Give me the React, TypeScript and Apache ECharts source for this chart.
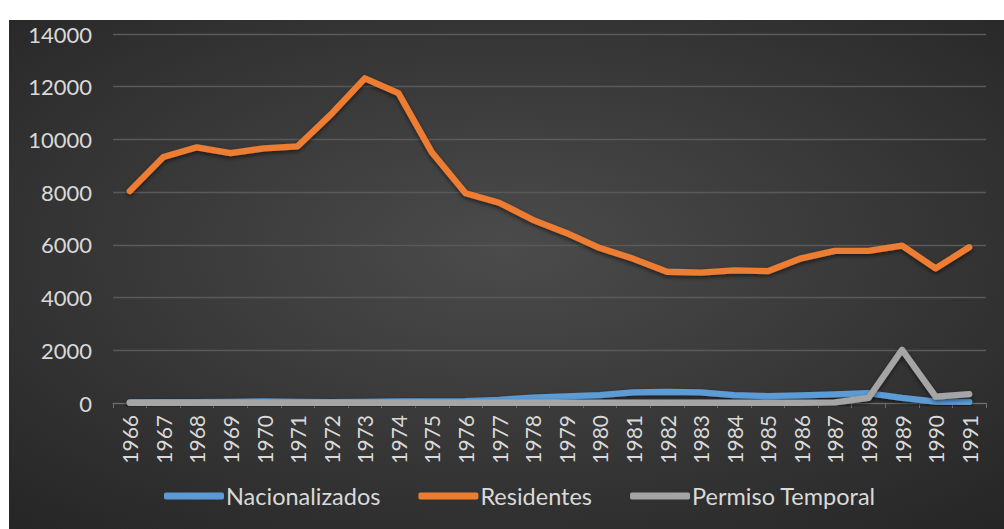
import React, { useEffect, useRef } from "react";
import * as echarts from "echarts";

const years = ["1966","1967","1968","1969","1970","1971","1972","1973","1974","1975","1976","1977","1978","1979","1980","1981","1982","1983","1984","1985","1986","1987","1988","1989","1990","1991"];
const nacionalizados = [20,30,30,40,60,40,30,40,60,60,70,120,200,250,300,400,420,400,300,260,290,330,370,190,50,40];
const residentes = [8040,9330,9700,9480,9660,9740,10960,12320,11760,9500,7960,7600,6950,6450,5880,5470,4980,4950,5030,5000,5490,5770,5770,5970,5110,5910];
const permisoTemporal = [10,10,10,10,10,10,10,10,10,10,10,10,10,10,10,10,10,10,10,10,10,20,190,2020,240,340];
const seriesNames = ["Nacionalizados", "Residentes", "Permiso Temporal"];
const colors = ["#5B9BD5", "#ED7D31", "#A5A5A5"];

export default function App() {
  const ref = useRef<HTMLDivElement>(null);
  useEffect(() => {
    document.body.style.margin = "0";
    const chart = echarts.init(ref.current!, null, { renderer: "svg" });
    const font = "Lato";
    const lineSeries = (name: string, data: number[], color: string) => ({
      name,
      type: "line",
      data,
      symbol: "none",
      smooth: false,
      itemStyle: { color },
      lineStyle: {
        color,
        width: 6.3,
        cap: "round",
        join: "round",
        shadowColor: "rgba(0,0,0,0.55)",
        shadowBlur: 4,
        shadowOffsetY: 2,
      },
    });
    chart.setOption({
      animation: false,
      backgroundColor: "#ffffff",
      graphic: [
        {
          type: "rect",
          z: -10,
          silent: true,
          shape: { x: 9, y: 20, width: 995, height: 509 },
          style: {
            fill: new echarts.graphic.RadialGradient(0.5, 0.45, 0.75, [
              { offset: 0, color: "#4b4b4b" },
              { offset: 1, color: "#252525" },
            ]),
          },
        },
      ],
      grid: { left: 113, right: 18, top: 34, bottom: 126, containLabel: false },
      legend: {
        data: seriesNames,
        bottom: 16,
        left: 159,
        itemWidth: 60,
        itemHeight: 7,
        itemGap: 38,
        icon: "roundRect",
        textStyle: { color: "#d9d9d9", fontSize: 23.5, fontFamily: font, padding: [0, 0, 0, -3] },
      },
      xAxis: {
        type: "category",
        data: years,
        boundaryGap: true,
        axisLine: { show: true, lineStyle: { color: "#6e6e6e", width: 1 } },
        axisTick: { show: true, length: 5, lineStyle: { color: "#6e6e6e" } },
        axisLabel: {
          rotate: 90,
          interval: 0,
          margin: 12,
          color: "#d9d9d9",
          fontSize: 21,
          fontFamily: font,
        },
      },
      yAxis: {
        type: "value",
        min: 0,
        max: 14000,
        interval: 2000,
        axisLine: { show: false },
        axisTick: { show: false },
        axisLabel: {
          color: "#d9d9d9",
          fontSize: 22,
          fontFamily: font,
          margin: 21,
          formatter: (v: number) => String(v),
        },
        splitLine: { lineStyle: { color: "#5a5a5a", width: 1.3 } },
      },
      series: [
        lineSeries(seriesNames[0], nacionalizados, colors[0]),
        lineSeries(seriesNames[1], residentes, colors[1]),
        lineSeries(seriesNames[2], permisoTemporal, colors[2]),
      ],
    });
    return () => chart.dispose();
  }, []);
  return <div ref={ref} style={{ position: "fixed", left: 0, top: 0, width: 1004, height: 529 }} />;
}
